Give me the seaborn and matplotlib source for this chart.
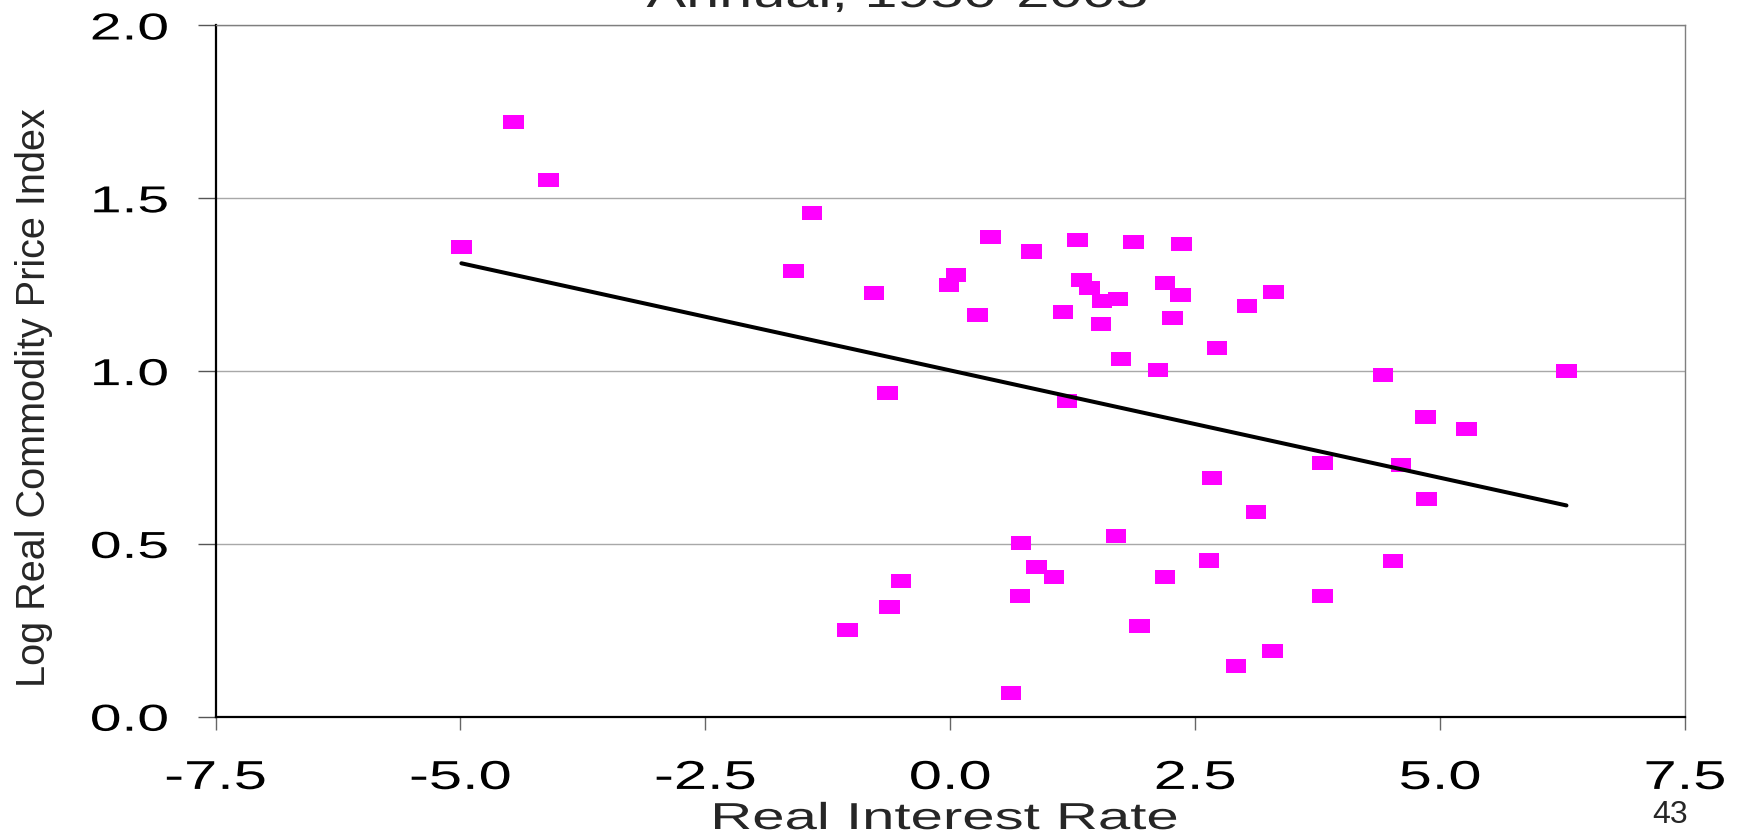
import numpy as np
import pandas as pd
import matplotlib
matplotlib.use("Agg")
import matplotlib.pyplot as plt
import seaborn as sns
from matplotlib.patheffects import AbstractPathEffect
from matplotlib.transforms import Affine2D
from matplotlib.markers import MarkerStyle

# ---------------- data ----------------
real_rate = [-4.99, -4.46, -4.10, -1.41, -1.60, -0.78, -0.64, -1.05, -0.50, -0.62,
             -0.01, 0.06, 0.28, 0.41, 0.83, 0.72, 0.71, 0.62, 0.88, 1.06,
             1.19, 1.15, 1.30, 1.34, 1.42, 1.55, 1.54, 1.71, 1.74, 1.69,
             1.87, 1.93, 2.12, 2.19, 2.19, 2.27, 2.35, 2.36, 2.64, 2.67,
             2.72, 2.92, 3.03, 3.12, 3.29, 3.30, 3.80, 3.80, 4.42, 4.52,
             4.60, 4.85, 4.86, 5.27, 6.29]
log_price = [1.359, 1.722, 1.552, 1.458, 1.289, 1.226, 0.937, 0.252, 0.393, 0.318,
             1.248, 1.277, 1.162, 1.389, 1.346, 0.502, 0.349, 0.069, 0.432, 0.404,
             0.913, 1.170, 1.379, 1.264, 1.241, 1.204, 1.136, 1.208, 1.034, 0.524,
             1.373, 0.263, 1.004, 1.255, 0.405, 1.153, 1.220, 1.367, 0.452, 0.691,
             1.068, 0.146, 1.189, 0.592, 0.190, 1.228, 0.733, 0.348, 0.988, 0.450,
             0.728, 0.866, 0.629, 0.832, 1.000]
x_ticks = [-7.5, -5.0, -2.5, 0.0, 2.5, 5.0, 7.5]
x_tick_labels = ["-7.5", "-5.0", "-2.5", "0.0", "2.5", "5.0", "7.5"]
y_ticks = [0.0, 0.5, 1.0, 1.5, 2.0]
y_tick_labels = ["0.0", "0.5", "1.0", "1.5", "2.0"]
title_text = "Annual, 1950-2005"
x_label = "Real Interest Rate"
y_label = "Log Real Commodity Price Index"
page_number = "43"

df = pd.DataFrame({"rate": real_rate, "price": log_price})


class HStretch(AbstractPathEffect):
    """Draw text stretched horizontally around an anchor (mimics the wide slide text)."""
    def __init__(self, sx=1.5, anchor="center"):
        super().__init__()
        self._sx = sx
        self._anchor = anchor

    def draw_path(self, renderer, gc, tpath, affine, rgbFace=None):
        ext = tpath.get_extents(affine)
        if self._anchor == "left":
            a = ext.x0
        elif self._anchor == "right":
            a = ext.x1
        else:
            a = 0.5 * (ext.x0 + ext.x1)
        st = Affine2D().translate(-a, 0).scale(self._sx, 1.0).translate(a, 0)
        renderer.draw_path(gc, tpath, affine + st, rgbFace)


sns.set_style("white")
plt.rcParams["font.family"] = ["Liberation Sans", "DejaVu Sans"]
plt.rcParams["axes.unicode_minus"] = False

W, H = 1742, 838
fig = plt.figure(figsize=(W / 100, H / 100), dpi=100)
left, right, top, bottom = 215.5, 1685.0, 25.5, 716.7
ax = fig.add_axes([left / W, (H - bottom) / H, (right - left) / W, (bottom - top) / H])

rect = MarkerStyle([(-1.45, -1), (1.45, -1), (1.45, 1), (-1.45, 1), (-1.45, -1)])
sns.scatterplot(data=df, x="rate", y="price", ax=ax, marker=rect, s=215,
                color="#FF00FF", edgecolor="none", linewidth=0, zorder=3)
sns.regplot(data=df, x="rate", y="price", ax=ax, scatter=False, ci=None,
            color="black", line_kws=dict(lw=2.9, solid_capstyle="round", zorder=4))

ax.set_xlim(-7.5, 7.5)
ax.set_ylim(0, 2.0)
ax.set_xticks(x_ticks)
ax.set_xticklabels(x_tick_labels)
ax.set_yticks(y_ticks)
ax.set_yticklabels(y_tick_labels)

ax.yaxis.grid(True, color="#a8a8a8", lw=1.0)
ax.xaxis.grid(False)
ax.set_axisbelow(True)

for s in ["left", "bottom"]:
    ax.spines[s].set_color("black")
    ax.spines[s].set_linewidth(1.6)
for s in ["top", "right"]:
    ax.spines[s].set_color("#7f7f7f")
    ax.spines[s].set_linewidth(1.0)

ax.tick_params(axis="x", direction="out", length=9.4, width=1.0, color="#666666",
               pad=21, labelsize=29, labelcolor="black", bottom=True)
ax.tick_params(axis="y", direction="out", length=13, width=1.0, color="#555555",
               pad=21, labelsize=27, labelcolor="black", left=True)

for lbl in ax.get_xticklabels():
    lbl.set_path_effects([HStretch(1.48, "center")])
for lbl in ax.get_yticklabels():
    lbl.set_path_effects([HStretch(1.52, "right")])

ax.set_xlabel(x_label, fontsize=27, va="baseline")
ax.xaxis.set_label_coords((945 - left) / (right - left), -(829 - bottom) / (bottom - top))
ax.xaxis.label.set_path_effects([HStretch(1.55, "center")])

ax.set_ylabel(y_label, fontsize=28.5, va="center")
ax.yaxis.set_label_coords(-(left - 34) / (right - left), (bottom - 398) / (bottom - top))

t = fig.text(897 / W, 1 - 7 / H, title_text, ha="center", va="baseline", fontsize=28.5)
t.set_path_effects([HStretch(1.5, "center")])

fig.text(1670 / W, 1 - 823 / H, page_number, ha="center", va="baseline", fontsize=23)

fig.savefig("out.png", dpi=100)
